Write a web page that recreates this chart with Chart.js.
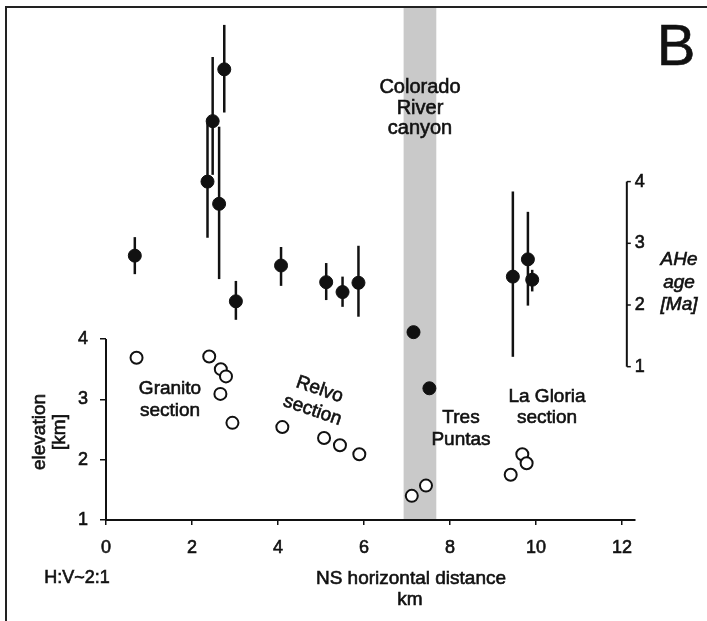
<!DOCTYPE html>
<html>
<head>
<meta charset="utf-8">
<script src="https://cdn.jsdelivr.net/npm/chart.js@4.4.1/dist/chart.umd.min.js"></script>
<style>
html, body { margin: 0; padding: 0; background: #fff; }
#wrap { width: 707px; height: 621px; }
</style>
</head>
<body>
<div id="wrap"><canvas id="chart" width="707" height="621"></canvas></div>
<script>
// AHe ages (filled dots), read against the right-hand axis
const ageDist = [0.67, 2.75, 2.48, 2.36, 2.63, 3.02, 4.07, 5.12, 5.50, 5.87, 9.46, 9.81, 9.91, 7.15, 7.52];
const ageMa   = [2.80, 5.82, 4.98, 4.00, 3.64, 2.06, 2.64, 2.37, 2.21, 2.36, 2.46, 2.74, 2.41, 1.56, 0.65];
const ageLow  = [2.50, 5.12, 4.11, 3.09, 2.42, 1.76, 2.31, 2.08, 1.97, 1.81, 1.16, 1.99, 2.22, null, null];
const ageHigh = [3.10, 6.54, 6.02, 4.95, 4.89, 2.39, 2.94, 2.68, 2.46, 2.96, 3.84, 3.51, 2.57, null, null];

// sample elevations (open dots), left axis
const elevDist = [0.71, 2.40, 2.67, 2.79, 2.66, 2.94, 4.10, 5.07, 5.44, 5.89, 7.11, 7.44, 9.41, 9.68, 9.78];
const elevKm   = [3.69, 3.71, 3.50, 3.38, 3.09, 2.61, 2.54, 2.36, 2.24, 2.09, 1.40, 1.57, 1.75, 2.09, 1.94];

const xTicks = [0, 2, 4, 6, 8, 10, 12];
const elevTicks = [1, 2, 3, 4];
const ageTicks = [1, 2, 3, 4];
const canyon = [6.92, 7.68];   // Colorado River canyon, km
const ageAxisAt = 12.11;       // where the age axis sits on the distance scale

const FONT = '"Liberation Sans", Arial, sans-serif';
const ink = '#111';

// text a bit heavier, like the scanned original
function txt(ctx, s, x, y, size, opt) {
  opt = opt || {};
  ctx.font = (opt.italic ? 'italic ' : '') + size + 'px ' + FONT;
  ctx.fillStyle = ink;
  ctx.strokeStyle = ink;
  ctx.lineWidth = 0.6;
  ctx.textAlign = opt.align || 'center';
  ctx.textBaseline = 'middle';
  ctx.fillText(s, x, y);
  ctx.strokeText(s, x, y);
}

const decor = {
  id: 'decor',
  beforeDatasetsDraw(chart) {
    const { ctx, chartArea, scales: { x, y, y2 } } = chart;
    ctx.save();
    // canyon band
    ctx.fillStyle = '#c9c9c9';
    const b0 = x.getPixelForValue(canyon[0]), b1 = x.getPixelForValue(canyon[1]);
    ctx.fillRect(b0, chartArea.top, b1 - b0, y.getPixelForValue(1) - 1 - chartArea.top);

    // error bars
    ctx.strokeStyle = ink;
    ctx.lineWidth = 2.5;
    for (let i = 0; i < ageDist.length; i++) {
      if (ageLow[i] == null) continue;
      const px = x.getPixelForValue(ageDist[i]);
      ctx.beginPath();
      ctx.moveTo(px, y2.getPixelForValue(ageLow[i]));
      ctx.lineTo(px, y2.getPixelForValue(ageHigh[i]));
      ctx.stroke();
    }

    // left axis line, only 1..4 km
    ctx.lineWidth = 2;
    ctx.beginPath();
    ctx.moveTo(chartArea.left, y.getPixelForValue(1) + 1);
    ctx.lineTo(chartArea.left, y.getPixelForValue(4));
    ctx.stroke();

    // age axis
    const ax = x.getPixelForValue(ageAxisAt);
    ctx.beginPath();
    ctx.moveTo(ax, y2.getPixelForValue(1));
    ctx.lineTo(ax, y2.getPixelForValue(4));
    ctx.stroke();
    ageTicks.forEach(v => {
      const py = y2.getPixelForValue(v);
      ctx.lineWidth = 1.5;
      ctx.beginPath();
      ctx.moveTo(ax, py);
      ctx.lineTo(ax + 4, py);
      ctx.stroke();
      txt(ctx, String(v), ax + 8, py, 18, { align: 'left' });
    });
    ctx.restore();
  },
  afterDraw(chart) {
    const { ctx } = chart;
    ctx.save();
    // frame
    ctx.strokeStyle = '#222';
    ctx.lineWidth = 2;
    ctx.beginPath();
    ctx.moveTo(707, 7);
    ctx.lineTo(6, 7);
    ctx.lineTo(6, 621);
    ctx.stroke();

    txt(ctx, 'B', 676, 49, 58);

    txt(ctx, 'Colorado', 420, 87, 20);
    txt(ctx, 'River', 420, 108, 20);
    txt(ctx, 'canyon', 420, 128, 20);

    txt(ctx, 'AHe', 679, 260, 19, { italic: true });
    txt(ctx, 'age', 679, 283, 19, { italic: true });
    txt(ctx, '[Ma]', 679, 305, 19, { italic: true });

    txt(ctx, 'Granito', 170, 389, 19);
    txt(ctx, 'section', 170, 411, 19);

    ctx.save();
    ctx.translate(316, 400);
    ctx.rotate(19 * Math.PI / 180);
    txt(ctx, 'Relvo', 0, -11, 19);
    txt(ctx, 'section', 0, 11, 19);
    ctx.restore();

    txt(ctx, 'Tres', 461, 418, 19);
    txt(ctx, 'Puntas', 461, 440, 19);

    txt(ctx, 'La Gloria', 547, 397, 19);
    txt(ctx, 'section', 547, 418, 19);

    ctx.save();
    ctx.translate(0, 432);
    ctx.rotate(-Math.PI / 2);
    txt(ctx, 'elevation', 0, 40, 19);
    txt(ctx, '[km]', 0, 60, 19);
    ctx.restore();

    txt(ctx, 'H:V~2:1', 77, 578, 18);
    txt(ctx, 'NS horizontal distance', 411, 579, 19);
    txt(ctx, 'km', 410, 600, 19);
    ctx.restore();
  }
};

new Chart(document.getElementById('chart'), {
  type: 'scatter',
  data: {
    datasets: [
      {
        label: 'AHe age',
        data: ageDist.map((d, i) => ({ x: d, y: ageMa[i] })),
        yAxisID: 'y2',
        pointRadius: 6.5,
        backgroundColor: ink,
        borderColor: ink,
        borderWidth: 1
      },
      {
        label: 'elevation',
        data: elevDist.map((d, i) => ({ x: d, y: elevKm[i] })),
        yAxisID: 'y',
        pointRadius: 6,
        backgroundColor: '#fff',
        borderColor: ink,
        borderWidth: 2
      }
    ]
  },
  options: {
    responsive: false,
    devicePixelRatio: 1,
    animation: false,
    layout: { padding: { left: 6, right: 72, top: 8, bottom: 0 } },
    plugins: { legend: { display: false }, tooltip: { enabled: false } },
    scales: {
      x: {
        type: 'linear',
        min: 0,
        max: 12.3,
        afterBuildTicks: s => { s.ticks = xTicks.map(v => ({ value: v })); },
        afterFit: s => { s.height = 101; s.paddingLeft = 0; s.paddingRight = 0; },
        border: { display: true, color: ink, width: 2 },
        grid: { drawOnChartArea: false, drawTicks: true, tickLength: 5, color: ink, lineWidth: 1.5 },
        ticks: { color: ink, font: { family: FONT, size: 18 }, padding: 12, maxRotation: 0,
                 textStrokeColor: ink, textStrokeWidth: 0.6 }
      },
      y: {
        type: 'linear',
        position: 'left',
        min: 1,
        max: 9.486,
        afterBuildTicks: s => { s.ticks = elevTicks.map(v => ({ value: v })); },
        afterFit: s => { s.width = 100; s.paddingTop = 0; s.paddingBottom = 0; },
        border: { display: false },
        grid: { drawOnChartArea: false, drawTicks: true, tickLength: 6, color: ink, lineWidth: 1.5 },
        ticks: { color: ink, font: { family: FONT, size: 18 }, padding: 12,
                 textStrokeColor: ink, textStrokeWidth: 0.6 }
      },
      y2: {
        type: 'linear',
        position: 'right',
        display: false,
        min: -1.485,
        max: 6.814
      }
    }
  },
  plugins: [decor]
});
</script>
</body>
</html>
